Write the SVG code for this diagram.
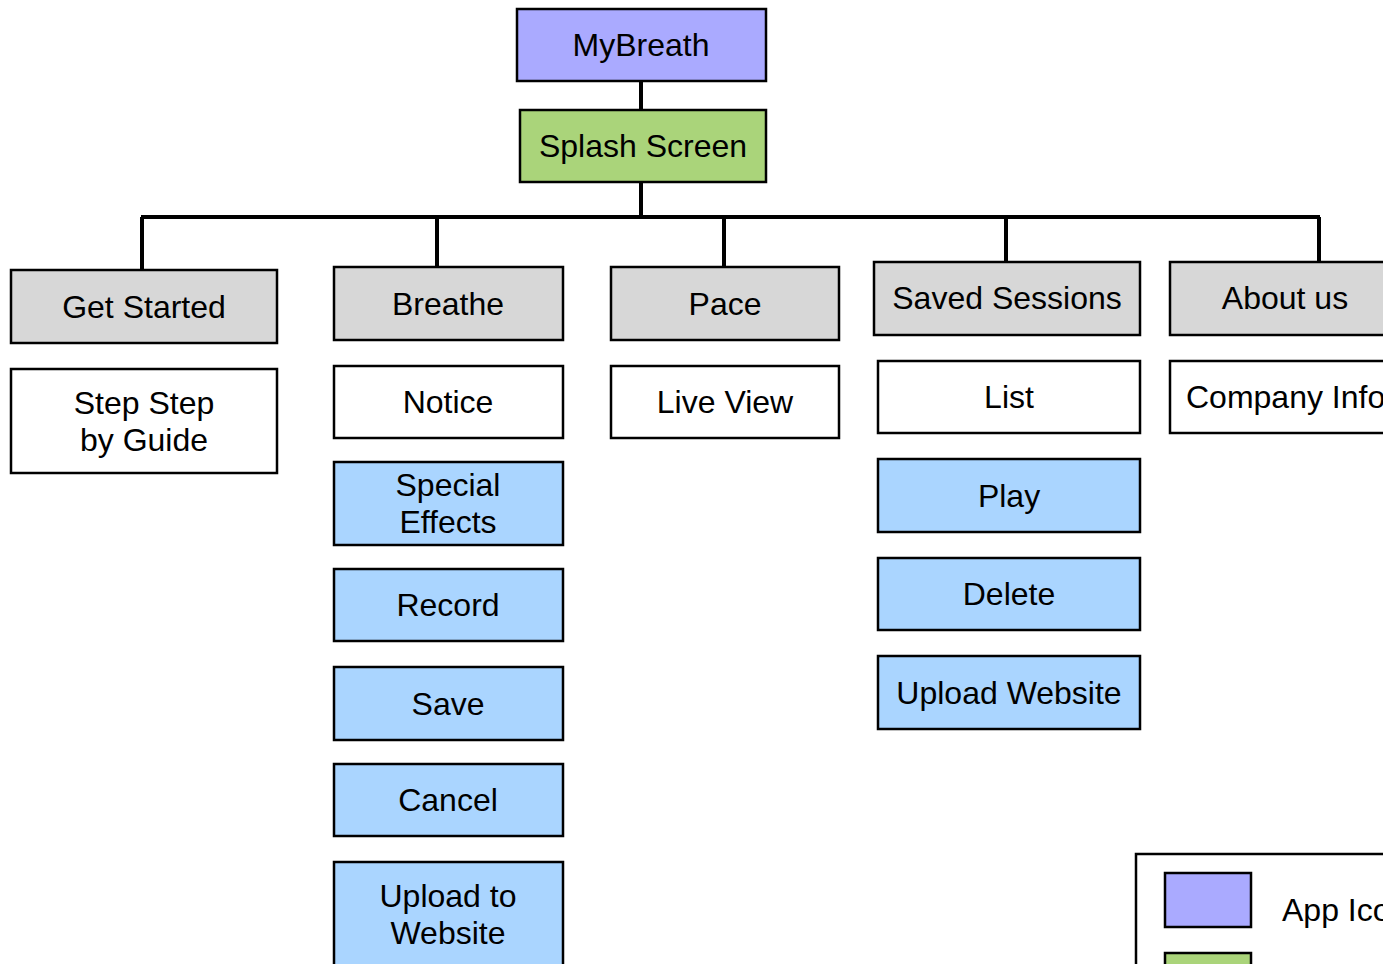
<svg xmlns="http://www.w3.org/2000/svg" width="1383" height="964" viewBox="0 0 1383 964">
<style>
.box{stroke:#000;stroke-width:2.5}
.icon{fill:#aaaaff}
.splash{fill:#aad47a}
.top{fill:#d7d7d7}
.sub{fill:#ffffff}
.act{fill:#aad5ff}
text{font-family:"Liberation Sans",Arial,Helvetica,sans-serif;font-size:32px;fill:#000;text-anchor:middle}
.conn{stroke:#000;stroke-width:4;fill:none}
</style>
<rect width="1383" height="964" fill="#fff"/>
<g id="connectors">
<path class="conn" d="M641 81V110M641 182V217M141 217H1320M142 217V270M437 217V267M724 217V267M1006 217V262M1319 217V262"/>
</g>
<g id="mybreath"><rect class="box icon" x="517" y="9" width="249" height="72"/><text x="641" y="56">MyBreath</text></g>
<g id="splash"><rect class="box splash" x="520" y="110" width="246" height="72"/><text x="643" y="157">Splash Screen</text></g>
<g id="get-started"><rect class="box top" x="11" y="270" width="266" height="73"/><text x="144" y="318">Get Started</text></g>
<g id="step-guide"><rect class="box sub" x="11" y="369" width="266" height="104"/><text x="144" y="414">Step Step</text><text x="144" y="451">by Guide</text></g>
<g id="breathe"><rect class="box top" x="334" y="267" width="229" height="73"/><text x="448" y="315">Breathe</text></g>
<g id="notice"><rect class="box sub" x="334" y="366" width="229" height="72"/><text x="448" y="413">Notice</text></g>
<g id="special-effects"><rect class="box act" x="334" y="462" width="229" height="83"/><text x="448" y="496">Special</text><text x="448" y="533">Effects</text></g>
<g id="record"><rect class="box act" x="334" y="569" width="229" height="72"/><text x="448" y="616">Record</text></g>
<g id="save"><rect class="box act" x="334" y="667" width="229" height="73"/><text x="448" y="715">Save</text></g>
<g id="cancel"><rect class="box act" x="334" y="764" width="229" height="72"/><text x="448" y="811">Cancel</text></g>
<g id="upload-to-website"><rect class="box act" x="334" y="862" width="229" height="120"/><text x="448" y="907">Upload to</text><text x="448" y="944">Website</text></g>
<g id="pace"><rect class="box top" x="611" y="267" width="228" height="73"/><text x="725" y="315">Pace</text></g>
<g id="live-view"><rect class="box sub" x="611" y="366" width="228" height="72"/><text x="725" y="413">Live View</text></g>
<g id="saved-sessions"><rect class="box top" x="874" y="262" width="266" height="73"/><text x="1007" y="309">Saved Sessions</text></g>
<g id="list"><rect class="box sub" x="878" y="361" width="262" height="72"/><text x="1009" y="408">List</text></g>
<g id="play"><rect class="box act" x="878" y="459" width="262" height="73"/><text x="1009" y="507">Play</text></g>
<g id="delete"><rect class="box act" x="878" y="558" width="262" height="72"/><text x="1009" y="605">Delete</text></g>
<g id="upload-website"><rect class="box act" x="878" y="656" width="262" height="73"/><text x="1009" y="704">Upload Website</text></g>
<g id="about-us"><rect class="box top" x="1170" y="262" width="230" height="73"/><text x="1285" y="309">About us</text></g>
<g id="company-info"><rect class="box sub" x="1170" y="361" width="230" height="72"/><text x="1186" y="408" style="text-anchor:start">Company Info</text></g>
<g id="legend">
<rect class="box sub" x="1136" y="854" width="300" height="160"/>
<rect class="box icon" x="1165" y="873" width="86" height="54"/>
<text x="1282" y="921" style="text-anchor:start">App Icon</text>
<rect class="box splash" x="1165" y="953" width="86" height="54"/>
</g>
</svg>
